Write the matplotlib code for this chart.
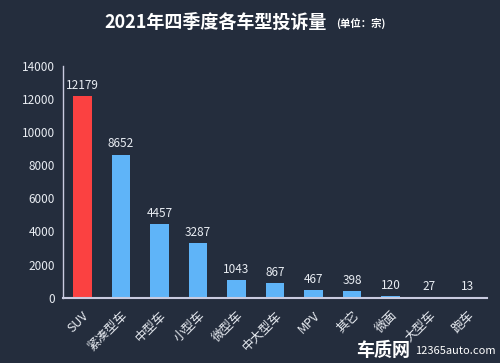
import matplotlib.pyplot as plt

plt.rcParams['font.family'] = ['Noto Sans CJK SC', 'DejaVu Sans']

categories = ["SUV", "紧凑型车", "中型车", "小型车", "微型车", "中大型车", "MPV", "其它", "微面", "大型车", "跑车"]
values = [12179, 8652, 4457, 3287, 1043, 867, 467, 398, 120, 27, 13]
yticks = [0, 2000, 4000, 6000, 8000, 10000, 12000, 14000]

bg = "#242d3d"
text_color = "#e8ecf2"
colors = ["#fb4141"] + ["#5fb4f8"] * (len(values) - 1)

fig = plt.figure(figsize=(5, 3.63), dpi=100, facecolor=bg)
ax = fig.add_axes([0.126, 0.18, 0.848, 0.638], facecolor=bg)

x = list(range(len(categories)))
ax.bar(x, values, width=0.48, color=colors)
for xi, v in zip(x, values):
    ax.text(xi, v + 250, str(v), ha="center", va="bottom", color=text_color, fontsize=8.5)

ax.set_xlim(-0.5, len(categories) - 0.5)
ax.set_ylim(0, 14000)
ax.set_yticks(yticks)
ax.set_yticklabels([str(t) for t in yticks], color=text_color, fontsize=8.5)
ax.set_xticks(x)
ax.set_xticklabels(categories, rotation=45, ha="right", rotation_mode="anchor",
                   color=text_color, fontsize=9)
ax.tick_params(axis="both", length=0, pad=6)
ax.tick_params(axis="x", pad=8)

for s in ["top", "right"]:
    ax.spines[s].set_visible(False)
ax.spines["left"].set_color("#c9cbe0")
ax.spines["bottom"].set_color("#c9cbe0")
ax.spines["left"].set_linewidth(1)
ax.spines["bottom"].set_linewidth(1.5)

fig.text(0.208, 0.938, "2021年四季度各车型投诉量", ha="left", va="center",
         color="white", fontsize=13, fontweight="bold")
fig.text(0.672, 0.935, "(单位：宗)", ha="left", va="center", color="white", fontsize=7.5,
         fontweight="bold")

fig.text(0.712, 0.035, "车质网", ha="left", va="center", color="white", fontsize=13, fontweight="bold")
fig.text(0.83, 0.032, "12365auto.com", ha="left", va="center", color="white", fontsize=8)

fig.savefig("out.png", dpi=100, facecolor=bg)
